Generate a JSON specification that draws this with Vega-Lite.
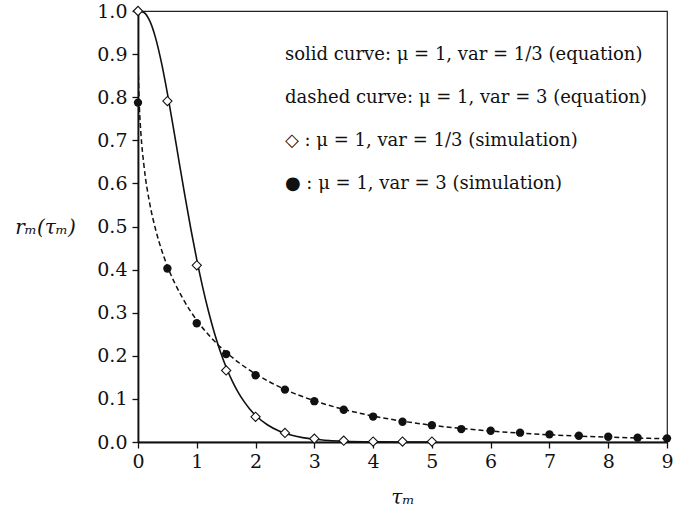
{
  "$schema": "https://vega.github.io/schema/vega-lite/v6.json",
  "width": 529,
  "height": 431,
  "autosize": {"type": "none"},
  "padding": {"left": 138, "top": 11, "right": 23, "bottom": 70},
  "background": "white",
  "config": {
    "view": {"stroke": "#222", "strokeWidth": 1.2},
    "font": "DejaVu Serif",
    "axis": {
      "labelFont": "DejaVu Serif", "titleFont": "DejaVu Serif",
      "labelFontSize": 19, "titleFontSize": 20,
      "labelColor": "#111", "titleColor": "#111",
      "domainColor": "#111", "domainWidth": 1.8,
      "tickColor": "#111", "tickWidth": 1.3, "tickSize": 6,
      "grid": false, "titleFontWeight": "normal", "labelFlush": false
    }
  },
  "datasets": {
    "curves": [
      {"s": "eqA", "t": 0, "r": 1.0},
      {"s": "eqA", "t": 0.1, "r": 0.9964},
      {"s": "eqA", "t": 0.2, "r": 0.9769},
      {"s": "eqA", "t": 0.3, "r": 0.9371},
      {"s": "eqA", "t": 0.4, "r": 0.8795},
      {"s": "eqA", "t": 0.5, "r": 0.8089},
      {"s": "eqA", "t": 0.6, "r": 0.7306},
      {"s": "eqA", "t": 0.7, "r": 0.6496},
      {"s": "eqA", "t": 0.8, "r": 0.5697},
      {"s": "eqA", "t": 0.9, "r": 0.4936},
      {"s": "eqA", "t": 1.0, "r": 0.4232},
      {"s": "eqA", "t": 1.1, "r": 0.3594},
      {"s": "eqA", "t": 1.2, "r": 0.3028},
      {"s": "eqA", "t": 1.3, "r": 0.2531},
      {"s": "eqA", "t": 1.4, "r": 0.2102},
      {"s": "eqA", "t": 1.5, "r": 0.1736},
      {"s": "eqA", "t": 1.6, "r": 0.1425},
      {"s": "eqA", "t": 1.7, "r": 0.1165},
      {"s": "eqA", "t": 1.8, "r": 0.0948},
      {"s": "eqA", "t": 1.9, "r": 0.0768},
      {"s": "eqA", "t": 2.0, "r": 0.0620},
      {"s": "eqA", "t": 2.2, "r": 0.0400},
      {"s": "eqA", "t": 2.4, "r": 0.0255},
      {"s": "eqA", "t": 2.6, "r": 0.0161},
      {"s": "eqA", "t": 2.8, "r": 0.0101},
      {"s": "eqA", "t": 3.0, "r": 0.0062},
      {"s": "eqA", "t": 3.25, "r": 0.0034},
      {"s": "eqA", "t": 3.5, "r": 0.0018},
      {"s": "eqA", "t": 4.0, "r": 0.0005},
      {"s": "eqA", "t": 4.5, "r": 0.00015},
      {"s": "eqA", "t": 5.0, "r": 0.00004},
      {"s": "eqB", "t": 0, "r": 1.0},
      {"s": "eqB", "t": 0.002, "r": 0.902},
      {"s": "eqB", "t": 0.005, "r": 0.867},
      {"s": "eqB", "t": 0.01, "r": 0.833},
      {"s": "eqB", "t": 0.025, "r": 0.773},
      {"s": "eqB", "t": 0.05, "r": 0.715},
      {"s": "eqB", "t": 0.1, "r": 0.643},
      {"s": "eqB", "t": 0.2, "r": 0.553},
      {"s": "eqB", "t": 0.3, "r": 0.493},
      {"s": "eqB", "t": 0.4, "r": 0.446},
      {"s": "eqB", "t": 0.5, "r": 0.408},
      {"s": "eqB", "t": 0.75, "r": 0.336},
      {"s": "eqB", "t": 1.0, "r": 0.2825},
      {"s": "eqB", "t": 1.25, "r": 0.2413},
      {"s": "eqB", "t": 1.5, "r": 0.208},
      {"s": "eqB", "t": 1.75, "r": 0.1808},
      {"s": "eqB", "t": 2.0, "r": 0.158},
      {"s": "eqB", "t": 2.5, "r": 0.122},
      {"s": "eqB", "t": 3.0, "r": 0.0957},
      {"s": "eqB", "t": 3.5, "r": 0.0758},
      {"s": "eqB", "t": 4.0, "r": 0.0602},
      {"s": "eqB", "t": 4.5, "r": 0.0483},
      {"s": "eqB", "t": 5.0, "r": 0.0388},
      {"s": "eqB", "t": 5.5, "r": 0.0314},
      {"s": "eqB", "t": 6.0, "r": 0.0254},
      {"s": "eqB", "t": 6.5, "r": 0.0207},
      {"s": "eqB", "t": 7.0, "r": 0.0168},
      {"s": "eqB", "t": 7.5, "r": 0.0138},
      {"s": "eqB", "t": 8.0, "r": 0.0113},
      {"s": "eqB", "t": 8.5, "r": 0.0092},
      {"s": "eqB", "t": 9.0, "r": 0.0076}
    ],
    "sims": [
      {"s": "simA", "t": 0, "r": 1.0},
      {"s": "simA", "t": 0.5, "r": 0.791},
      {"s": "simA", "t": 1.0, "r": 0.41},
      {"s": "simA", "t": 1.5, "r": 0.166},
      {"s": "simA", "t": 2.0, "r": 0.0585},
      {"s": "simA", "t": 2.5, "r": 0.021},
      {"s": "simA", "t": 3.0, "r": 0.0077},
      {"s": "simA", "t": 3.5, "r": 0.003},
      {"s": "simA", "t": 4.0, "r": 0.001},
      {"s": "simA", "t": 4.5, "r": 0.001},
      {"s": "simA", "t": 5.0, "r": 0.001},
      {"s": "simB", "t": 0, "r": 0.7875},
      {"s": "simB", "t": 0.5, "r": 0.4026},
      {"s": "simB", "t": 1.0, "r": 0.2756},
      {"s": "simB", "t": 1.5, "r": 0.204},
      {"s": "simB", "t": 2.0, "r": 0.155},
      {"s": "simB", "t": 2.5, "r": 0.1216},
      {"s": "simB", "t": 3.0, "r": 0.0947},
      {"s": "simB", "t": 3.5, "r": 0.0747},
      {"s": "simB", "t": 4.0, "r": 0.059},
      {"s": "simB", "t": 4.5, "r": 0.047},
      {"s": "simB", "t": 5.0, "r": 0.039},
      {"s": "simB", "t": 5.5, "r": 0.030},
      {"s": "simB", "t": 6.0, "r": 0.026},
      {"s": "simB", "t": 6.5, "r": 0.0216},
      {"s": "simB", "t": 7.0, "r": 0.0177},
      {"s": "simB", "t": 7.5, "r": 0.0146},
      {"s": "simB", "t": 8.0, "r": 0.0123},
      {"s": "simB", "t": 8.5, "r": 0.010},
      {"s": "simB", "t": 9.0, "r": 0.0085}
    ],
    "notes": [
      {"t": 2.5, "r": 0.897, "label": "solid curve:  μ = 1, var = 1/3 (equation)"},
      {"t": 2.5, "r": 0.798, "label": "dashed curve:  μ = 1, var = 3 (equation)"},
      {"t": 2.5, "r": 0.698, "label": "◇ : μ = 1, var = 1/3 (simulation)"},
      {"t": 2.5, "r": 0.598, "label": "● : μ = 1, var = 3 (simulation)"}
    ]
  },
  "encoding": {
    "x": {
      "field": "t", "type": "quantitative",
      "scale": {"domain": [0, 9], "nice": false, "zero": false},
      "axis": {"values": [0,1,2,3,4,5,6,7,8,9], "title": "τₘ", "titleFontStyle": "italic", "titleAnchor": "middle", "titleY": 55, "titleBaseline": "middle", "labelPadding": 4}
    },
    "y": {
      "field": "r", "type": "quantitative",
      "scale": {"domain": [0, 1], "nice": false},
      "axis": {"values": [0,0.1,0.2,0.3,0.4,0.5,0.6,0.7,0.8,0.9,1.0], "format": ".1f", "title": "rₘ(τₘ)", "titleFontStyle": "italic", "titleAngle": 0, "titleX": -93, "titleY": 216, "titleAlign": "center", "titleBaseline": "middle", "labelPadding": 5}
    }
  },
  "layer": [
    {
      "data": {"name": "curves"},
      "transform": [{"filter": "datum.s === 'eqB'"}],
      "mark": {"type": "line", "color": "#111", "strokeWidth": 1.5, "strokeDash": [5, 3], "interpolate": "monotone", "clip": true}
    },
    {
      "data": {"name": "curves"},
      "transform": [{"filter": "datum.s === 'eqA'"}],
      "mark": {"type": "line", "color": "#111", "strokeWidth": 1.6, "interpolate": "monotone", "clip": true}
    },
    {
      "data": {"name": "sims"},
      "transform": [{"filter": "datum.s === 'simB'"}],
      "mark": {"type": "point", "shape": "circle", "filled": true, "color": "#111", "size": 70, "opacity": 1}
    },
    {
      "data": {"name": "sims"},
      "transform": [{"filter": "datum.s === 'simA'"}],
      "mark": {"type": "point", "shape": "diamond", "filled": true, "fill": "white", "stroke": "#111", "strokeWidth": 1.1, "size": 85, "opacity": 1}
    },
    {
      "data": {"name": "notes"},
      "mark": {"type": "text", "align": "left", "baseline": "middle", "font": "DejaVu Serif", "fontSize": 18, "color": "#111"},
      "encoding": {"text": {"field": "label"}}
    }
  ]
}
